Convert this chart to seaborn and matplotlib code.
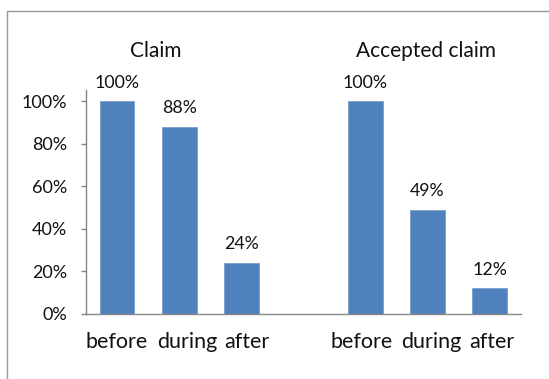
import matplotlib
matplotlib.use("Agg")
import matplotlib.pyplot as plt
from matplotlib.patches import Rectangle
from matplotlib.ticker import PercentFormatter
from matplotlib.transforms import ScaledTranslation
import pandas as pd
import seaborn as sns

# Share of cases by phase, for all claims and for accepted claims
groups = ["Claim", "Accepted claim"]
phases = ["before", "during", "after"]
claim_share = [1.00, 0.88, 0.24]
accepted_share = [1.00, 0.49, 0.12]

rows = []
for g, vals in zip(groups, [claim_share, accepted_share]):
    for p, v in zip(phases, vals):
        rows.append({"group": g, "phase": p, "key": f"{g}|{p}", "share": v})
df = pd.DataFrame(rows)

# a blank slot between the two groups
order = [f"{groups[0]}|{p}" for p in phases] + ["gap"] + [f"{groups[1]}|{p}" for p in phases]

sns.set_theme(style="white")
plt.rcParams["font.family"] = ["Lato", "DejaVu Sans"]

W, H = 549, 379
fig = plt.figure(figsize=(W / 100, H / 100), dpi=100)
fig.patch.set_facecolor("white")
ax_left, ax_right, ax_bottom, ax_top = 86, 520.7, 313.5, 90
ax = fig.add_axes([ax_left / W, 1 - ax_bottom / H,
                   (ax_right - ax_left) / W, (ax_bottom - ax_top) / H])

bar_color = "#4F81BD"
sns.barplot(data=df, x="key", y="share", order=order, color=bar_color,
            saturation=1, width=0.56, edgecolor="#7aa0cf", linewidth=0.6,
            errorbar=None, ax=ax)

ax.set_ylim(0, 1.054)
ax.set_xlim(-0.5, 6.5)
ax.set_yticks([0, 0.2, 0.4, 0.6, 0.8, 1.0])
ax.yaxis.set_major_formatter(PercentFormatter(1.0, decimals=0))
ax.set_xticks([0, 1, 2, 4, 5, 6])
ax.set_xticklabels(phases + phases)
ax.set_xlabel("")
ax.set_ylabel("")

text_color = "#111111"
for c in ax.containers:
    ax.bar_label(c, fmt="{:.0%}", padding=7.5, fontsize=12.8, color=text_color)

axis_gray = "#868686"
for side in ["top", "right"]:
    ax.spines[side].set_visible(False)
for side in ["left", "bottom"]:
    ax.spines[side].set_color(axis_gray)
    ax.spines[side].set_linewidth(1.0)

ax.tick_params(axis="y", which="major", left=True, length=3.8, width=1.0,
               color=axis_gray, pad=10, labelsize=13, labelcolor=text_color)
ax.tick_params(axis="x", which="major", bottom=False, length=0, pad=13,
               labelsize=15.5, labelcolor=text_color)

# spread the category labels a little so neighbouring words don't touch
label_shift_pt = [0, 5.5, 4.0, -2.5, 3.0, 1.5]
for lab, dx in zip(ax.get_xticklabels(), label_shift_pt):
    lab.set_transform(lab.get_transform() + ScaledTranslation(dx / 72, 0, fig.dpi_scale_trans))

# group headings above the bars
ax.text(0.62, 1.236, groups[0], ha="center", va="center", fontsize=15,
        color=text_color, clip_on=False)
ax.text(4.98, 1.236, groups[1], ha="center", va="center", fontsize=15,
        color=text_color, clip_on=False)

# chart-area frame (runs off the right and bottom edges)
fx, fy = 7.3 / W, 1 - 11 / H
fig.patches.append(Rectangle((fx, -0.2), 1.2, fy + 0.2,
                             transform=fig.transFigure, fill=False,
                             edgecolor="#9a9a9a", linewidth=1.0))

fig.savefig("out.png", dpi=100, facecolor="white")
